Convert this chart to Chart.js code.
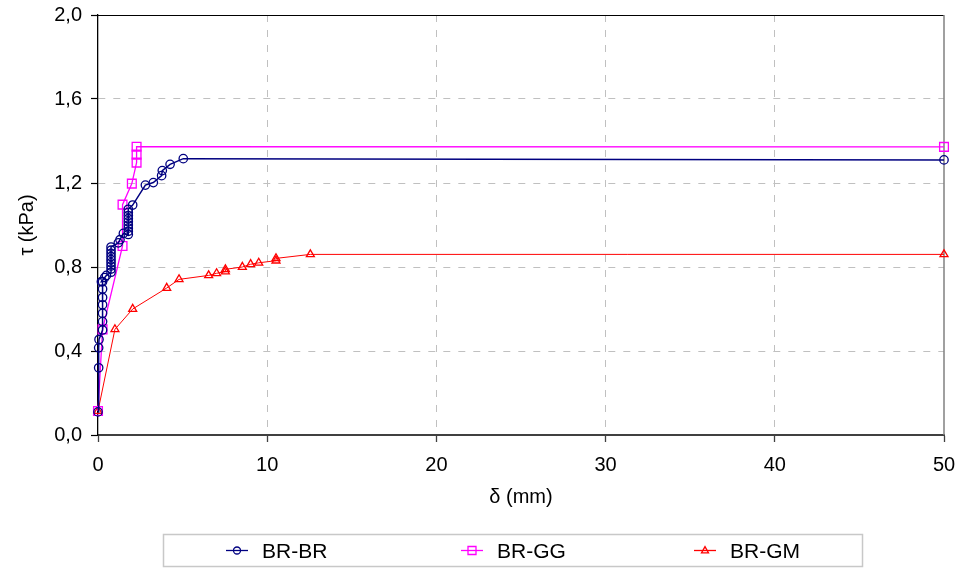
<!DOCTYPE html>
<html>
<head>
<meta charset="utf-8">
<script src="https://cdn.jsdelivr.net/npm/chart.js@4/dist/chart.umd.min.js"></script>
<style>
  html, body { margin: 0; padding: 0; background: #fff; }
  #wrap { width: 961px; height: 569px; position: relative; }
</style>
</head>
<body>
<div id="wrap"><canvas id="c" width="961" height="569"></canvas></div>
<script>
// Shear stress τ (kPa) against displacement δ (mm) for three interfaces
const seriesNames = ['BR-BR', 'BR-GG', 'BR-GM'];

const brbrDelta = [0, 0.04, 0.04, 0.06, 0.27, 0.27, 0.27, 0.27, 0.27, 0.27, 0.27, 0.2, 0.4, 0.5,
  0.77, 0.77, 0.77, 0.77, 0.77, 0.77, 0.77, 0.77, 0.77, 1.2, 1.3, 1.5,
  1.79, 1.79, 1.79, 1.79, 1.79, 1.79, 1.79, 1.79, 1.79, 2.05, 2.8, 3.27, 3.76, 3.8, 4.26, 5.04, 50];
const brbrTau = [0.11, 0.32, 0.415, 0.455, 0.50, 0.54, 0.58, 0.62, 0.655, 0.695, 0.73, 0.73, 0.75, 0.76,
  0.775, 0.79, 0.805, 0.82, 0.835, 0.85, 0.865, 0.88, 0.895, 0.915, 0.93, 0.96,
  0.955, 0.97, 0.985, 1.0, 1.015, 1.03, 1.045, 1.06, 1.075, 1.095, 1.19, 1.202, 1.235, 1.259, 1.289, 1.316, 1.31];

const brggDelta = [0, 0.27, 1.45, 1.45, 2.0, 2.28, 2.28, 2.28, 50];
const brggTau = [0.114, 0.503, 0.90, 1.097, 1.197, 1.297, 1.335, 1.373, 1.372];

const brgmDelta = [0, 1.0, 2.05, 4.06, 4.79, 6.54, 7.01, 7.53, 7.53, 8.53, 9.02, 9.5, 10.52, 10.52, 12.55, 50];
const brgmTau = [0.114, 0.503, 0.60, 0.70, 0.741, 0.760, 0.770, 0.778, 0.789, 0.80, 0.813, 0.82, 0.830, 0.841, 0.860, 0.860];

const xTicks = [0, 10, 20, 30, 40, 50];
const yTicks = [0, 0.4, 0.8, 1.2, 1.6, 2.0];

const toPoints = (xs, ys) => xs.map((x, i) => ({ x: x, y: ys[i] }));

const FONT = "'Liberation Sans', Arial, Helvetica, sans-serif";
Chart.defaults.font.family = FONT;
Chart.defaults.font.size = 20;
Chart.defaults.color = '#000';

// Frame lines on the top and right edges of the plot area
const frame = {
  id: 'frame',
  beforeDatasetsDraw(chart) {
    const { ctx, chartArea: a } = chart;
    ctx.save();
    ctx.strokeStyle = '#000';
    ctx.lineWidth = 1;
    ctx.beginPath();
    ctx.moveTo(a.left, a.top + 0.5);
    ctx.lineTo(a.right, a.top + 0.5);
    ctx.stroke();
    ctx.strokeStyle = '#808080';
    ctx.lineWidth = 1.5;
    ctx.beginPath();
    ctx.moveTo(a.right, a.top);
    ctx.lineTo(a.right, a.bottom);
    ctx.stroke();
    ctx.restore();
  }
};

function marker(ctx, style, x, y, r) {
  ctx.beginPath();
  if (style === 'circle') {
    ctx.arc(x, y, r, 0, Math.PI * 2);
  } else if (style === 'rect') {
    ctx.rect(x - r, y - r, 2 * r, 2 * r);
  } else {
    ctx.moveTo(x, y - r * 1.1);
    ctx.lineTo(x + r, y + r * 0.7);
    ctx.lineTo(x - r, y + r * 0.7);
    ctx.closePath();
  }
  ctx.stroke();
}

// Boxed key under the axes
const seriesKey = {
  id: 'seriesKey',
  afterDraw(chart) {
    const { ctx } = chart;
    const box = { x: 163.5, y: 534.5, w: 699, h: 32 };
    const itemX = [237, 472, 705];
    const cy = box.y + box.h / 2;
    ctx.save();
    ctx.strokeStyle = '#c8c8c8';
    ctx.lineWidth = 1.5;
    ctx.strokeRect(box.x, box.y, box.w, box.h);
    chart.data.datasets.forEach((ds, i) => {
      const mx = itemX[i];
      ctx.strokeStyle = ds.borderColor;
      ctx.lineWidth = 1.3;
      ctx.beginPath();
      ctx.moveTo(mx - 11, cy);
      ctx.lineTo(mx + 11, cy);
      ctx.stroke();
      marker(ctx, ds.pointStyle, mx, cy, ds.pointStyle === 'rect' ? 4 : 3.5);
      ctx.fillStyle = '#000';
      ctx.font = '21px ' + FONT;
      ctx.textBaseline = 'middle';
      ctx.textAlign = 'left';
      ctx.fillText(ds.label, mx + 25, cy + 1.5);
    });
    ctx.restore();
  }
};

const edgeColor = (ctx, max) => {
  const v = ctx.tick ? ctx.tick.value : null;
  return (v === 0 || v === max) ? 'rgba(0,0,0,0)' : '#c0c0c0';
};

new Chart(document.getElementById('c'), {
  type: 'scatter',
  data: {
    datasets: [
      {
        label: seriesNames[0],
        data: toPoints(brbrDelta, brbrTau),
        borderColor: '#000080',
        backgroundColor: 'rgba(0,0,0,0)',
        borderWidth: 1.5,
        pointStyle: 'circle',
        pointRadius: 4.2,
        pointBorderWidth: 1.3,
        showLine: true,
        tension: 0,
        clip: false
      },
      {
        label: seriesNames[1],
        data: toPoints(brggDelta, brggTau),
        borderColor: '#ff00ff',
        backgroundColor: 'rgba(0,0,0,0)',
        borderWidth: 1.3,
        pointStyle: 'rect',
        pointRadius: 6.2,
        pointBorderWidth: 1.3,
        showLine: true,
        tension: 0,
        clip: false
      },
      {
        label: seriesNames[2],
        data: toPoints(brgmDelta, brgmTau),
        borderColor: '#ff0000',
        backgroundColor: 'rgba(0,0,0,0)',
        borderWidth: 1,
        pointStyle: 'triangle',
        pointRadius: 4.6,
        pointBorderWidth: 1.3,
        showLine: true,
        tension: 0,
        clip: false
      }
    ]
  },
  options: {
    responsive: false,
    animation: false,
    events: [],
    layout: { padding: { left: 11, top: 15, right: 17, bottom: 56 } },
    plugins: { legend: { display: false }, tooltip: { enabled: false } },
    scales: {
      x: {
        type: 'linear',
        min: xTicks[0],
        max: xTicks[xTicks.length - 1],
        afterFit(scale) {
          scale.height = 78;
          scale.paddingLeft = 0;
          scale.paddingRight = 0;
        },
        afterBuildTicks(scale) { scale.ticks = xTicks.map(v => ({ value: v })); },
        ticks: { padding: 11, maxRotation: 0, autoSkip: false, callback: v => String(v) },
        grid: {
          color: ctx => edgeColor(ctx, 50),
          lineWidth: 1,
          drawTicks: true,
          tickLength: 7,
          tickColor: '#404040',
          tickWidth: 1.3,
          tickBorderDash: []
        },
        border: { display: true, color: '#404040', width: 2, dash: [7, 8] },
        title: { display: true, text: 'δ (mm)', font: { size: 20 }, padding: { top: 4, bottom: 4 } }
      },
      y: {
        type: 'linear',
        min: yTicks[0],
        max: yTicks[yTicks.length - 1],
        afterFit(scale) {
          scale.width = 87;
          scale.paddingTop = 0;
          scale.paddingBottom = 0;
        },
        afterBuildTicks(scale) { scale.ticks = yTicks.map(v => ({ value: v })); },
        ticks: { padding: 9, autoSkip: false, callback: v => Number(v).toFixed(1).replace('.', ',') },
        grid: {
          color: ctx => edgeColor(ctx, 2),
          lineWidth: 1,
          drawTicks: true,
          tickLength: 7,
          tickColor: '#000',
          tickWidth: 1.2,
          tickBorderDash: []
        },
        border: { display: true, color: '#000', width: 1.3, dash: [7, 8] },
        title: { display: true, text: 'τ (kPa)', font: { size: 20 }, padding: { top: 4, bottom: 4 } }
      }
    }
  },
  plugins: [frame, seriesKey]
});
</script>
</body>
</html>
